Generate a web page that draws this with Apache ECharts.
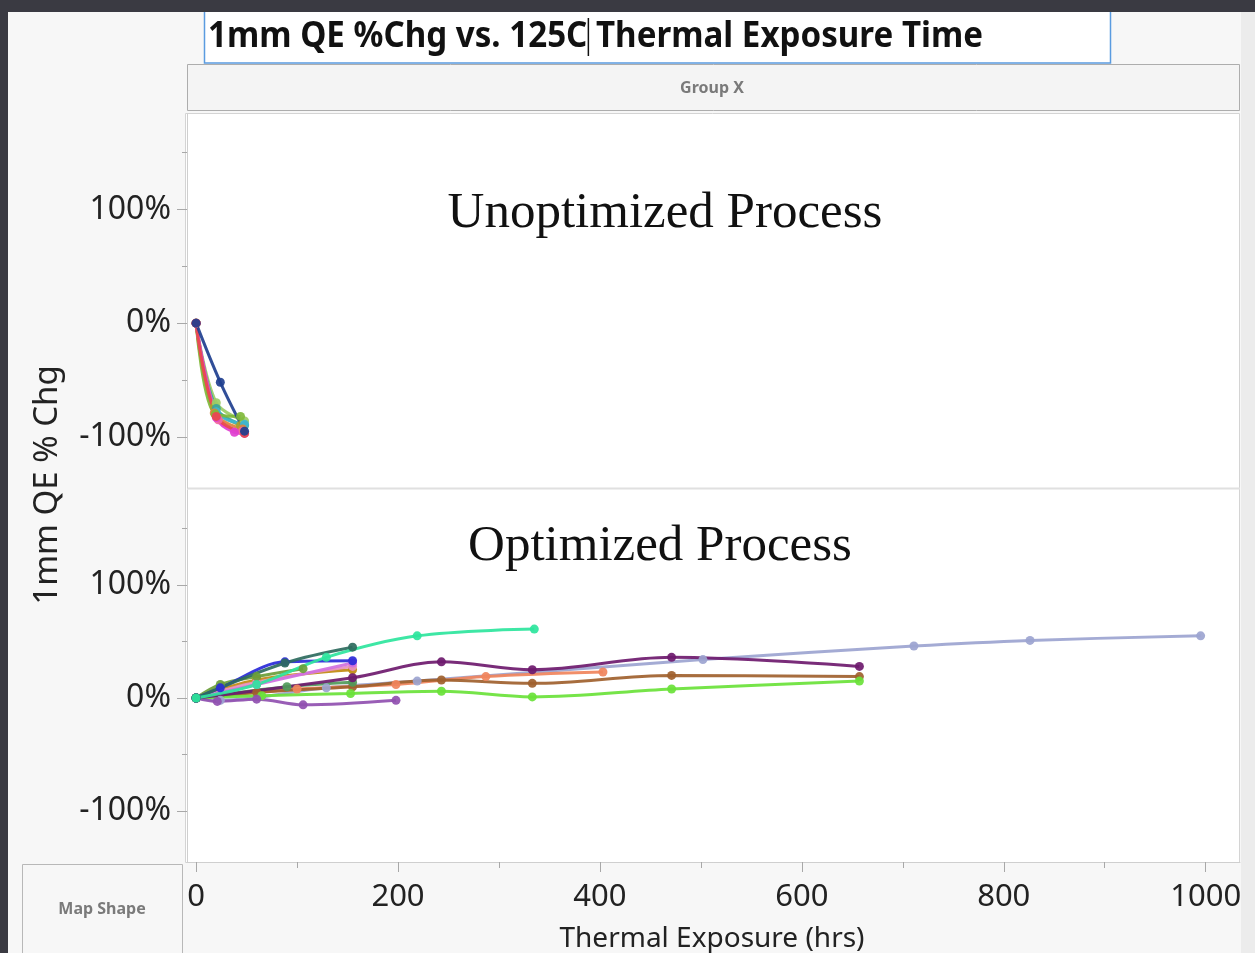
<!DOCTYPE html>
<html>
<head>
<meta charset="utf-8">
<script src="https://cdn.jsdelivr.net/npm/echarts@6/dist/echarts.min.js"></script>
<style>
  html, body { margin: 0; padding: 0; background: #3a3a42; }
  #chart { width: 1255px; height: 953px; }
</style>
</head>
<body>
<div id="chart"></div>
<script>
// thermal exposure hrs vs QE % change, one array per unit
// top panel: unoptimized process
const unoptNavy = [[0, 0], [24, -52], [48, -95]]
const unoptOrange = [[0, 0], [18, -79], [46, -93]]
const unoptGreen = [[0, 0], [19, -80], [44, -82]]
const unoptTeal = [[0, 0], [20, -75], [48, -90]]
const unoptCyan = [[0, 0], [20, -78], [48, -89]]
const unoptMagenta = [[0, 0], [20, -83], [38, -96], [48, -97]]
const unoptRed = [[0, 0], [20, -82], [48, -97]]
const unoptPink = [[0, 0], [22, -85], [46, -95]]
const unoptOlive = [[0, 0], [18, -74], [44, -90]]
const unoptLime = [[0, 0], [20, -70], [48, -86]]

// bottom panel: optimized process
const optSpring = [[0, 0], [60, 12], [129, 36], [219, 55], [335, 61]]
const optDarkTeal = [[0, 0], [88, 31], [155, 45]]
const optBlue = [[0, 0], [24, 9], [88, 32], [155, 33]]
const optOrchid = [[0, 0], [60, 12], [155, 31]]
const optPink = [[0, 0], [60, 14], [155, 28]]
const optGold = [[0, 0], [60, 16], [155, 25]]
const optOlive = [[0, 0], [24, 12], [60, 19], [106, 26]]
const optPlum = [[0, 0], [155, 18], [243, 32], [333, 25], [471, 36], [657, 28]]
const optGreen = [[0, 0], [90, 10], [155, 14]]
const optBrown = [[0, 0], [60, 5], [155, 10], [243, 16], [333, 13], [471, 20], [657, 19]]
const optSalmon = [[0, 0], [100, 8], [198, 12], [287, 19], [403, 23]]
const optSlate = [[0, 0], [24, -2], [129, 9], [219, 15], [502, 34], [711, 46], [826, 51], [995, 55]]
const optLime = [[0, 0], [65, 2], [153, 4], [243, 6], [333, 1], [471, 8], [657, 15]]
const optPurple = [[0, 0], [21, -3], [60, -1], [106, -6], [198, -2]]

const yLabels = [-100, 0, 100]
const yMinor = [-50, 50, 150]
const xLabels = [0, 200, 400, 600, 800, 1000]
const xMinor = [100, 300, 500, 700, 900]

const unoptSeries = [
  [unoptOlive, '#a8a22c'], [unoptLime, '#9ccc65'], [unoptTeal, '#3aa69a'],
  [unoptCyan, '#3fb6d0'], [unoptOrange, '#e0823a'], [unoptGreen, '#7fb83a'],
  [unoptPink, '#f06aa0'], [unoptMagenta, '#e040d0'], [unoptRed, '#e84a4a'],
  [unoptNavy, '#1f3f8f']
]
const optSeries = [
  [optSlate, '#9ca4d0'], [optSalmon, '#f0845c'], [optBrown, '#a0612e'],
  [optLime, '#6ae23a'], [optPurple, '#9050b0'], [optGreen, '#4f9a5a'],
  [optGold, '#c08a10'], [optPink, '#e890c0'], [optOrchid, '#d070e0'],
  [optOlive, '#6a9e3a'], [optPlum, '#6e1a6e'], [optBlue, '#2a2ad8'],
  [optDarkTeal, '#2e6b5e'], [optSpring, '#2ee59d']
]

const FONT = '"Noto Sans", "Open Sans", sans-serif'
const TITLE = '1mm QE %Chg vs. 125C Thermal Exposure Time'
const TITLE_SIZE = 35
const TITLE_WIDTH = 775

// measure title so the scaled text fits its box and the caret sits after "125C"
const ctx = document.createElement('canvas').getContext('2d')
ctx.font = `bold ${TITLE_SIZE}px "Noto Sans"`
const titleScale = TITLE_WIDTH / ctx.measureText(TITLE).width
const caretX = 208 + titleScale * ctx.measureText('1mm QE %Chg vs. 125C').width + 1

const chart = echarts.init(document.getElementById('chart'))

function makeLine (data, color, axis) {
  return {
    type: 'line',
    xAxisIndex: axis,
    yAxisIndex: axis * 2,
    data,
    smooth: 0.35,
    symbol: 'circle',
    symbolSize: 9,
    z: 4,
    lineStyle: { color, width: 3, opacity: 0.92 },
    itemStyle: { color, opacity: 0.92 },
    emphasis: { disabled: true }
  }
}

function yAxes (gridIndex) {
  return [{
    type: 'value',
    gridIndex,
    position: 'left',
    min: -145,
    max: 184,
    z: 3,
    axisLine: { show: true, onZero: false, lineStyle: { color: '#cfcfcf', width: 1 } },
    axisTick: { show: true, customValues: yLabels, length: 10, lineStyle: { color: '#a8a8a8' } },
    axisLabel: {
      customValues: yLabels,
      formatter: v => v + '%',
      color: '#222',
      fontSize: 32,
      fontFamily: FONT,
      margin: 16
    },
    splitLine: { show: false }
  }, {
    type: 'value',
    gridIndex,
    position: 'left',
    min: -145,
    max: 184,
    z: 3,
    axisLine: { show: false, onZero: false },
    axisTick: { show: true, customValues: yMinor, length: 5, lineStyle: { color: '#a8a8a8' } },
    axisLabel: { show: false },
    splitLine: { show: false }
  }]
}

const option = {
  backgroundColor: '#3a3a42',
  animation: false,
  grid: [
    { left: 187, top: 114, width: 1053, height: 374 },
    { left: 187, top: 490, width: 1053, height: 372 }
  ],
  xAxis: [{
    type: 'value',
    gridIndex: 0,
    min: -9,
    max: 1034,
    show: false
  }, {
    type: 'value',
    gridIndex: 1,
    position: 'bottom',
    min: -9,
    max: 1034,
    z: 3,
    axisLine: { show: true, onZero: false, lineStyle: { color: '#cfcfcf' } },
    axisTick: { show: true, customValues: xLabels, length: 10, lineStyle: { color: '#a8a8a8' } },
    axisLabel: {
      customValues: xLabels,
      formatter: v => String(v),
      color: '#222',
      fontSize: 31,
      fontFamily: FONT,
      margin: 20
    },
    splitLine: { show: false }
  }, {
    type: 'value',
    gridIndex: 1,
    position: 'bottom',
    min: -9,
    max: 1034,
    z: 3,
    axisLine: { show: false, onZero: false },
    axisTick: { show: true, customValues: xMinor, length: 6, lineStyle: { color: '#a8a8a8' } },
    axisLabel: { show: false },
    splitLine: { show: false }
  }],
  yAxis: [...yAxes(0), ...yAxes(1)],
  graphic: [
    // panel backgrounds
    { type: 'rect', z: 0, shape: { x: 8, y: 12, width: 1247, height: 941 }, style: { fill: '#f7f7f7' } },
    { type: 'rect', z: 0, shape: { x: 1241, y: 12, width: 14, height: 941 }, style: { fill: '#ececec' } },
    { type: 'rect', z: 0, shape: { x: 204.5, y: 2, width: 906, height: 61 }, style: { fill: '#fff', stroke: '#5a9be0', lineWidth: 1.5 } },
    { type: 'rect', z: 1, shape: { x: 0, y: 0, width: 1255, height: 12 }, style: { fill: '#3a3a42' } },
    { type: 'rect', z: 0, shape: { x: 187.5, y: 64.5, width: 1052, height: 46 }, style: { fill: '#f4f4f4', stroke: '#adadad', lineWidth: 1 } },
    { type: 'rect', z: 0, shape: { x: 185.5, y: 113.5, width: 1054, height: 749 }, style: { fill: '#fff', stroke: '#d4d4d4', lineWidth: 1 } },
    { type: 'line', z: 1, shape: { x1: 187, y1: 488.5, x2: 1240, y2: 488.5 }, style: { stroke: '#e0e0e0', lineWidth: 2 } },
    { type: 'rect', z: 0, shape: { x: 22.5, y: 864.5, width: 160, height: 100 }, style: { fill: '#f7f7f7', stroke: '#b8b8b8', lineWidth: 1 } },
    // texts
    {
      type: 'text', z: 5, x: 208, y: 37, scaleX: titleScale,
      style: { text: TITLE, fontSize: TITLE_SIZE, fontWeight: 'bold', fontFamily: '"Noto Sans"', fill: '#111', verticalAlign: 'middle' }
    },
    { type: 'line', z: 5, shape: { x1: caretX, y1: 18, x2: caretX, y2: 56 }, style: { stroke: '#111', lineWidth: 1.5 } },
    {
      type: 'text', z: 5, x: 712, y: 88,
      style: { text: 'Group X', fontSize: 16, fontWeight: 'bold', fontFamily: FONT, fill: '#7a7a7a', align: 'center', verticalAlign: 'middle' }
    },
    {
      type: 'text', z: 5, x: 102, y: 909,
      style: { text: 'Map Shape', fontSize: 16, fontWeight: 'bold', fontFamily: FONT, fill: '#7a7a7a', align: 'center', verticalAlign: 'middle' }
    },
    {
      type: 'text', z: 5, x: 712, y: 939,
      style: { text: 'Thermal Exposure (hrs)', fontSize: 28, fontFamily: FONT, fill: '#222', align: 'center', verticalAlign: 'middle' }
    },
    {
      type: 'text', z: 5, x: 48, y: 485, rotation: Math.PI / 2,
      style: { text: '1mm QE % Chg', fontSize: 33, fontFamily: FONT, fill: '#222', align: 'center', verticalAlign: 'middle' }
    },
    {
      type: 'text', z: 5, x: 665, y: 214,
      style: { text: 'Unoptimized Process', fontSize: 51, fontFamily: '"Liberation Serif", serif', fill: '#111', align: 'center', verticalAlign: 'middle' }
    },
    {
      type: 'text', z: 5, x: 660, y: 547,
      style: { text: 'Optimized Process', fontSize: 51, fontFamily: '"Liberation Serif", serif', fill: '#111', align: 'center', verticalAlign: 'middle' }
    }
  ],
  series: [
    ...unoptSeries.map(([d, c]) => makeLine(d, c, 0)),
    ...optSeries.map(([d, c]) => makeLine(d, c, 1))
  ]
}

chart.setOption(option)
</script>
</body>
</html>
